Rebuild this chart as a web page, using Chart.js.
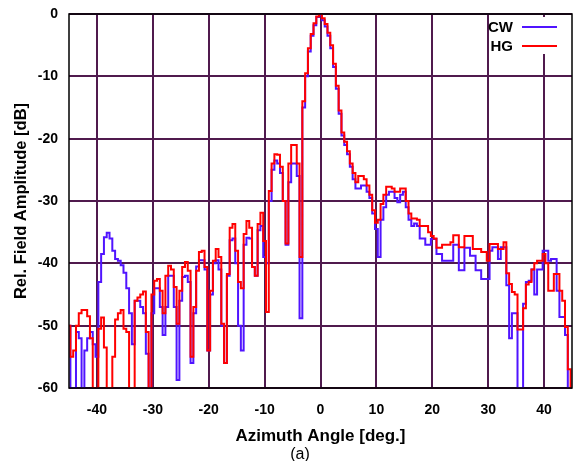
<!DOCTYPE html>
<html><head><meta charset="utf-8">
<script src="https://cdn.jsdelivr.net/npm/chart.js@4.4.0/dist/chart.umd.min.js"></script>
<style>html,body{margin:0;padding:0;background:#fff;}#wrap{width:573px;height:461px;position:relative;}</style>
</head><body><div id="wrap"><canvas id="c" width="573" height="461"></canvas></div>
<script>
const angles = [
 -45,-44.5,-44,-43.5,-43,-42.5,-42,-41.5,-41,-40.5,
 -40,-39.5,-39,-38.5,-38,-37.5,-37,-36.5,-36,-35.5,
 -35,-34.5,-34,-33.5,-33,-32.5,-32,-31.5,-31,-30.5,
 -30,-29.5,-29,-28.5,-28,-27.5,-27,-26.5,-26,-25.5,
 -25,-24.5,-24,-23.5,-23,-22.5,-22,-21.5,-21,-20.5,
 -20,-19.5,-19,-18.5,-18,-17.5,-17,-16.5,-16,-15.5,
 -15,-14.5,-14,-13.5,-13,-12.5,-12,-11.5,-11,-10.5,
 -10,-9.5,-9,-8.5,-8,-7.5,-7,-6.5,-6,-5.5,
 -5,-4.5,-4,-3.5,-3,-2.5,-2,-1.5,-1,-0.5,
 0,0.5,1,1.5,2,2.5,3,3.5,4,4.5,
 5,5.5,6,6.5,7,7.5,8,8.5,9,9.5,
 10,10.5,11,11.5,12,12.5,13,13.5,14,14.5,
 15,15.5,16,16.5,17,17.5,18,18.5,19,19.5,
 20,20.5,21,21.5,22,22.5,23,23.5,24,24.5,
 25,25.5,26,26.5,27,27.5,28,28.5,29,29.5,
 30,30.5,31,31.5,32,32.5,33,33.5,34,34.5,
 35,35.5,36,36.5,37,37.5,38,38.5,39,39.5,
 40,40.5,41,41.5,42,42.5,43,43.5,44,44.5,
 45];
const cwValues = [
 -50,-60,-60,-51,-52,-60,-54,-52,-51,-53,
 -55,-43,-38.5,-35.8,-35.1,-36,-38,-39.3,-39.6,-40.3,
 -41.5,-44,-48,-53,-46,-46,-47,-48,-54.5,-60,
 -48,-44,-44,-47,-51.5,-47,-42,-42,-47,-58.7,
 -46,-42.2,-42,-43,-56,-48,-40.5,-39.5,-39.5,-41,
 -54,-45,-40,-39.5,-41,-50,-56,-42,-36.3,-36,
 -40,-50,-54,-37,-35.9,-36,-40.6,-42,-34.7,-34,
 -39,-40,-30,-25,-23.5,-24,-25.5,-30,-37,-27,
 -24,-24,-26,-48.8,-15,-10,-6,-3.5,-1.8,-0.5,
 -0.2,-1,-2,-3.5,-5.5,-8.5,-12,-16,-19.5,-21,
 -22.5,-24.5,-26.5,-28,-28,-27.5,-27.5,-28.5,-29.5,-32,
 -34.5,-39,-33,-31,-29,-28.5,-28.5,-29.5,-30.2,-29,
 -28.5,-31,-33,-34,-33.6,-34,-36,-36,-37,-37,
 -36.1,-36.1,-38.5,-38.5,-39.6,-39.6,-39.6,-39.6,-37,-37,
 -41.1,-41.1,-37.5,-37.5,-38.8,-38.8,-41.1,-41.1,-42.5,-42.5,
 -42.5,-38,-37.4,-37.4,-39.3,-37.4,-37.4,-43.5,-52,-48,
 -48,-60,-60,-46.5,-43,-42.8,-41,-45,-41,-41,
 -38,-38,-39.6,-39.3,-39.3,-44.4,-48.6,-48.6,-51.5,-60,
 -60];
const hgValues = [
 -50,-55,-54,-50,-48,-47.5,-47.5,-48.5,-52,-60,
 -60,-50.5,-48.7,-53.5,-60,-60,-55,-49,-48,-47.5,
 -50.5,-51,-60,-60,-46,-45.5,-45,-44.5,-51,-60,
 -45,-42.8,-42.5,-44.4,-48,-42,-40.4,-41,-43.8,-49.7,
 -44.4,-40.6,-39.8,-41.2,-55,-47,-41.2,-38.2,-38,-40.6,
 -54,-44.4,-39.6,-37.7,-39,-49.7,-56,-41.7,-34.3,-33.7,
 -38,-43,-44,-35.3,-33.2,-34.3,-40.6,-42,-33.7,-31.9,
 -36.4,-47.8,-28.4,-24,-22.5,-22.6,-24.5,-30,-36.8,-24,
 -21,-21,-24,-39,-14,-9.5,-5.5,-3.2,-1.5,-0.4,
 0,-0.7,-1.6,-3,-5,-8,-11.5,-15.5,-19,-20.5,
 -22,-24,-25.5,-27,-26,-26,-26.5,-27.5,-29,-31.5,
 -33.5,-33,-30.5,-29,-27.7,-27.7,-28,-28.5,-28.5,-28,
 -28,-30,-32,-32.8,-32.8,-33,-34,-34,-34,-35,
 -35.6,-36,-37.5,-37.5,-37,-37,-37,-36.6,-35.5,-35.5,
 -37.4,-37.4,-35.6,-35.6,-35.6,-37.7,-37.7,-37.7,-38.2,-38.2,
 -39.6,-36.9,-36.9,-36.9,-37.7,-37.7,-36.6,-41.6,-43.3,-44.6,
 -45,-50.6,-50.6,-47.2,-43.4,-43,-41,-40,-39.6,-39.6,
 -38.5,-40,-44.4,-44.4,-41.7,-41.7,-44.4,-46,-50.2,-57,
 -60];
const seriesNames = ['CW', 'HG'];
const xTickValues = [-40, -30, -20, -10, 0, 10, 20, 30, 40];
const yTickValues = [0, -10, -20, -30, -40, -50, -60];
const xTitle = 'Azimuth Angle [deg.]';
const yTitle = 'Rel. Field Amplitude [dB]';
const caption = '(a)';

const FONT = "'Liberation Sans', Arial, Helvetica, sans-serif";
const BLUE = 'rgb(80,20,255)';
const RED = 'rgb(255,0,0)';
const GRID = 'rgb(80,26,78)';

function toPoints(vals) { return angles.map((a, i) => ({ x: a, y: vals[i] })); }

const framePlugin = {
  id: 'frame',
  afterDraw(chart) {
    const { ctx, chartArea: a } = chart;
    ctx.save();
    ctx.strokeStyle = '#000';
    ctx.lineWidth = 1.5;
    ctx.strokeRect(a.left, a.top, a.right - a.left, a.bottom - a.top);
    ctx.restore();
  }
};

const legendPlugin = {
  id: 'gpLegend',
  afterDraw(chart) {
    const { ctx } = chart;
    ctx.save();
    ctx.fillStyle = '#fff';
    ctx.fillRect(492, 17, 72, 37);
    ctx.font = 'bold 15px ' + FONT;
    ctx.textAlign = 'right';
    ctx.textBaseline = 'middle';
    chart.data.datasets.forEach((ds, i) => {
      const y = 27 + i * 19;
      ctx.fillStyle = '#000';
      ctx.fillText(ds.label, 513, y + 1);
      ctx.strokeStyle = ds.borderColor;
      ctx.lineWidth = 2;
      ctx.beginPath();
      ctx.moveTo(522, y);
      ctx.lineTo(557, y);
      ctx.stroke();
    });
    ctx.restore();
  }
};

const titlePlugin = {
  id: 'titles',
  afterDraw(chart) {
    const { ctx, chartArea: a } = chart;
    ctx.save();
    ctx.fillStyle = '#000';
    ctx.textAlign = 'center';
    ctx.textBaseline = 'middle';
    ctx.font = 'bold 17px ' + FONT;
    ctx.fillText(xTitle, (a.left + a.right) / 2, 436);
    ctx.font = '16px ' + FONT;
    ctx.fillText(caption, 300, 455);
    ctx.translate(21, (a.top + a.bottom) / 2);
    ctx.rotate(-Math.PI / 2);
    ctx.font = 'bold 16.5px ' + FONT;
    ctx.fillText(yTitle, 0, 0);
    ctx.restore();
  }
};

new Chart(document.getElementById('c'), {
  type: 'line',
  data: {
    datasets: [
      { label: seriesNames[0], data: toPoints(cwValues), borderColor: BLUE, borderWidth: 2, stepped: 'middle', pointRadius: 0, fill: false, order: 1 },
      { label: seriesNames[1], data: toPoints(hgValues), borderColor: RED, borderWidth: 2, stepped: 'middle', pointRadius: 0, fill: false, order: 0 }
    ]
  },
  options: {
    responsive: false,
    animation: false,
    devicePixelRatio: 1,
    layout: { padding: { top: 14, right: 1, left: 0, bottom: 0 } },
    plugins: { legend: { display: false }, tooltip: { enabled: false } },
    scales: {
      x: {
        type: 'linear', min: -45, max: 45,
        afterBuildTicks: s => { s.ticks = xTickValues.map(v => ({ value: v })); },
        afterFit: s => { s.height = 73; s.paddingLeft = 0; s.paddingRight = 0; },
        grid: { color: GRID, lineWidth: 2, drawTicks: false },
        border: { display: false },
        ticks: { color: '#000', font: { family: FONT, size: 14, weight: 'bold' }, padding: 14, maxRotation: 0 }
      },
      y: {
        type: 'linear', min: -60, max: 0,
        afterBuildTicks: s => { s.ticks = yTickValues.map(v => ({ value: v })); },
        afterFit: s => { s.width = 69; s.paddingTop = 0; s.paddingBottom = 0; },
        grid: { color: GRID, lineWidth: 2, drawTicks: false },
        border: { display: false },
        ticks: { color: '#000', font: { family: FONT, size: 14, weight: 'bold' }, padding: 11 }
      }
    }
  },
  plugins: [framePlugin, legendPlugin, titlePlugin]
});
</script></body></html>
